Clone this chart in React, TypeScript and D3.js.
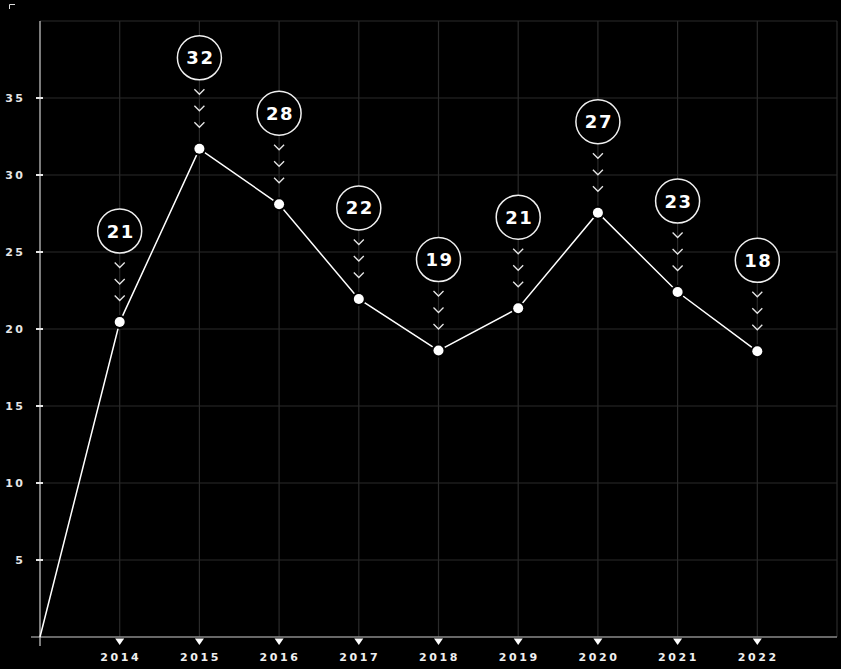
import React from "react";
import * as d3 from "d3";

const years = ["2014", "2015", "2016", "2017", "2018", "2019", "2020", "2021", "2022"];
const values = [20.45, 31.7, 28.1, 21.95, 18.6, 21.35, 27.55, 22.4, 18.55];
const labels = ["21", "32", "28", "22", "19", "21", "27", "23", "18"];
const yTicks = [5, 10, 15, 20, 25, 30, 35];

const W = 841;
const H = 669;
const margin = { left: 40, right: 4, top: 21, bottom: 32 };
const FONT = "'DejaVu Sans', Verdana, sans-serif";

export default function App() {
  const x = d3.scaleLinear().domain([-1, years.length]).range([margin.left, W - margin.right]);
  const y = d3.scaleLinear().domain([0, 40]).range([H - margin.bottom, margin.top]);
  const pts: [number, number][] = [[x(-1), y(0)], ...values.map((v, i) => [x(i), y(v)] as [number, number])];
  const line = d3.line<[number, number]>().x((d) => d[0]).y((d) => d[1]);
  const gridY = d3.range(5, 45, 5);
  const gridX = d3.range(0, years.length + 1);
  const x0 = x(-1);
  const x1 = x(years.length);
  const yb = y(0);
  const yt = y(40);

  return (
    <div style={{ position: "absolute", left: 0, top: 0, width: W, height: H, background: "#000" }}>
      <svg width={W} height={H} style={{ display: "block", background: "#000" }} fontFamily={FONT}>
        <rect x={0} y={0} width={W} height={H} fill="#000" />
        <path d="M9.5,9 V4.5 H15" stroke="#ddd" strokeWidth={1} fill="none" />
        {gridY.map((v) => (
          <line key={"gy" + v} x1={x0} x2={x1} y1={y(v)} y2={y(v)} stroke="#2a2a2a" strokeWidth={1.2} />
        ))}
        {gridX.map((i) => (
          <line key={"gx" + i} x1={x(i)} x2={x(i)} y1={yt} y2={yb} stroke="#2a2a2a" strokeWidth={1.2} />
        ))}
        <line x1={31} x2={x1} y1={yb} y2={yb} stroke="#8a8a8a" strokeWidth={1.5} />
        <line x1={x0} x2={x0} y1={yt} y2={yb + 9} stroke="#cfcfcf" strokeWidth={1.2} />
        {yTicks.map((v) => (
          <g key={"yt" + v}>
            <line x1={x0 - 4} x2={x0 + 3} y1={y(v)} y2={y(v)} stroke="#e6e6e6" strokeWidth={2} />
            <text x={25} y={y(v)} dy="0.35em" textAnchor="end" fill="#e6e6e6" fontSize={11} fontWeight="bold" letterSpacing={2.2}>
              {v}
            </text>
          </g>
        ))}
        {years.map((yr, i) => (
          <g key={"xt" + yr}>
            <path d={`M${x(i) - 4.5},${yb + 1.5} L${x(i) + 4.5},${yb + 1.5} L${x(i)},${yb + 8} Z`} fill="#fff" />
            <text x={x(i) + 1} y={yb + 20} dy="0.35em" textAnchor="middle" fill="#f0f0f0" fontSize={11} fontWeight="bold" letterSpacing={2.6}>
              {yr}
            </text>
          </g>
        ))}
        <path d={line(pts) || ""} fill="none" stroke="#fff" strokeWidth={1.5} />
        {values.map((v, i) => {
          const cx = x(i);
          const cy = y(v);
          const lc = cy - 91;
          return (
            <g key={"pt" + i}>
              <circle cx={cx} cy={cy} r={5} fill="#fff" stroke="#000" strokeWidth={4} paintOrder="stroke" />
              {[0, 1, 2].map((k) => {
                const cyv = lc + 34 + k * 16.5;
                return (
                  <path key={k} d={`M${cx - 5},${cyv - 2.5} L${cx},${cyv + 2.5} L${cx + 5},${cyv - 2.5}`} fill="none" stroke="#e6e6e6" strokeWidth={1.3} />
                );
              })}
              <circle cx={cx} cy={lc} r={22} fill="#000" stroke="#f0f0f0" strokeWidth={1.5} />
              <text x={cx + 1} y={lc} dy="0.36em" textAnchor="middle" fill="#fff" fontSize={18} fontWeight="bold" letterSpacing={1.5}>
                {labels[i]}
              </text>
            </g>
          );
        })}
      </svg>
    </div>
  );
}
